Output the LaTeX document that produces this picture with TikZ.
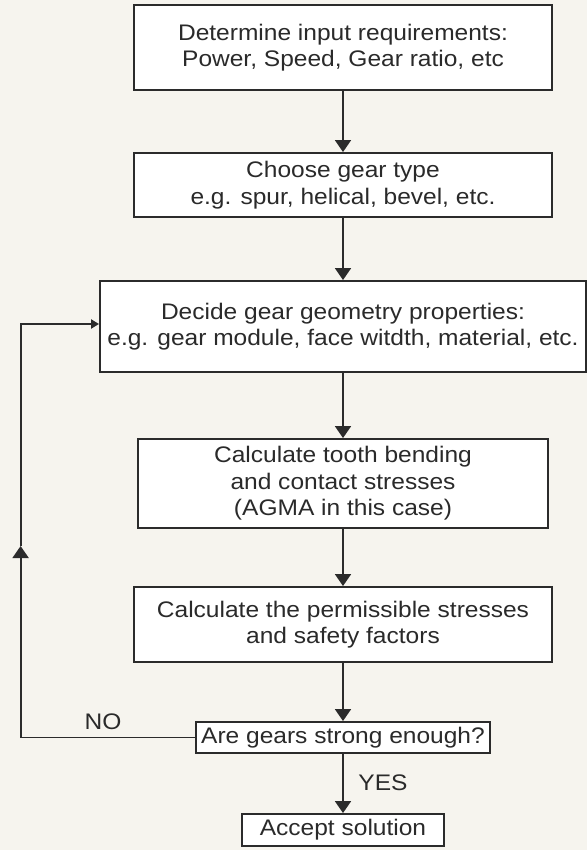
\documentclass[tikz,border=0pt]{standalone}
\usepackage{fontspec}
\setmainfont{Liberation Sans}[FakeStretch=1.09]
\usetikzlibrary{arrows.meta}
\definecolor{bgc}{HTML}{F6F4EE}
\definecolor{linec}{HTML}{2B2B2B}
\definecolor{textc}{HTML}{2A2A2A}
\tikzset{
  box/.style={draw=linec, fill=white, line width=1.9pt, align=center, inner sep=0pt,
    text=textc, font=\fontsize{22.5}{26.5}\selectfont},
  conn/.style={draw=linec, line width=1.9pt},
  arr/.style={conn, -{Triangle[length=12pt,width=16pt]}},
  smallarr/.style={conn, -{Triangle[length=8pt,width=9pt]}},
  lbl/.style={text=textc, inner sep=0pt, font=\fontsize{22.5}{26.5}\selectfont}
}
\begin{document}
\begin{tikzpicture}[x=1pt,y=-1pt]
\fill[bgc] (0,0) rectangle (587,850);
\useasboundingbox (0,0) rectangle (587,850);

\node[box, minimum width=418pt, minimum height=85pt] (b1) at (343,47.5)
  {Determine input requirements:\\Power, Speed, Gear ratio, etc};
\node[box, minimum width=418pt, minimum height=64pt] (b2) at (343,185)
  {Choose gear type\\e.g. spur, helical, bevel, etc.};
\node[box, minimum width=486pt, minimum height=91pt] (b3) at (343,326.5)
  {Decide gear geometry properties:\\e.g. gear module, face witdth, material, etc.};
\node[box, minimum width=410pt, minimum height=89pt] (b4) at (343,483.5)
  {Calculate tooth bending\\and contact stresses\\(AGMA in this case)};
\node[box, minimum width=418pt, minimum height=75pt] (b5) at (343,624.5)
  {Calculate the permissible stresses\\and safety factors};
\node[box, minimum width=294pt, minimum height=31pt] (dec) at (343,737.5)
  {Are gears strong enough?};
\node[box, minimum width=202pt, minimum height=32pt] (acc) at (343,830)
  {Accept solution};

\draw[arr] (b1) -- (b2);
\draw[arr] (b2) -- (b3);
\draw[arr] (b3) -- (b4);
\draw[arr] (b4) -- (b5);
\draw[arr] (b5) -- (dec);
\draw[arr] (dec) -- (acc);

\coordinate (lb) at (20.6,737.5);
\coordinate (lm) at (20.6,546);
\coordinate (lt) at (20.6,324);
\draw[arr] (dec.west) -- (lb) -- (lm);
\draw[smallarr] (lm) -- (lt) -- (b3.west |- lt);

\node[lbl] (no) at (103,722) {NO};
\node[lbl] (yes) at (383,783) {YES};
\end{tikzpicture}
\end{document}
